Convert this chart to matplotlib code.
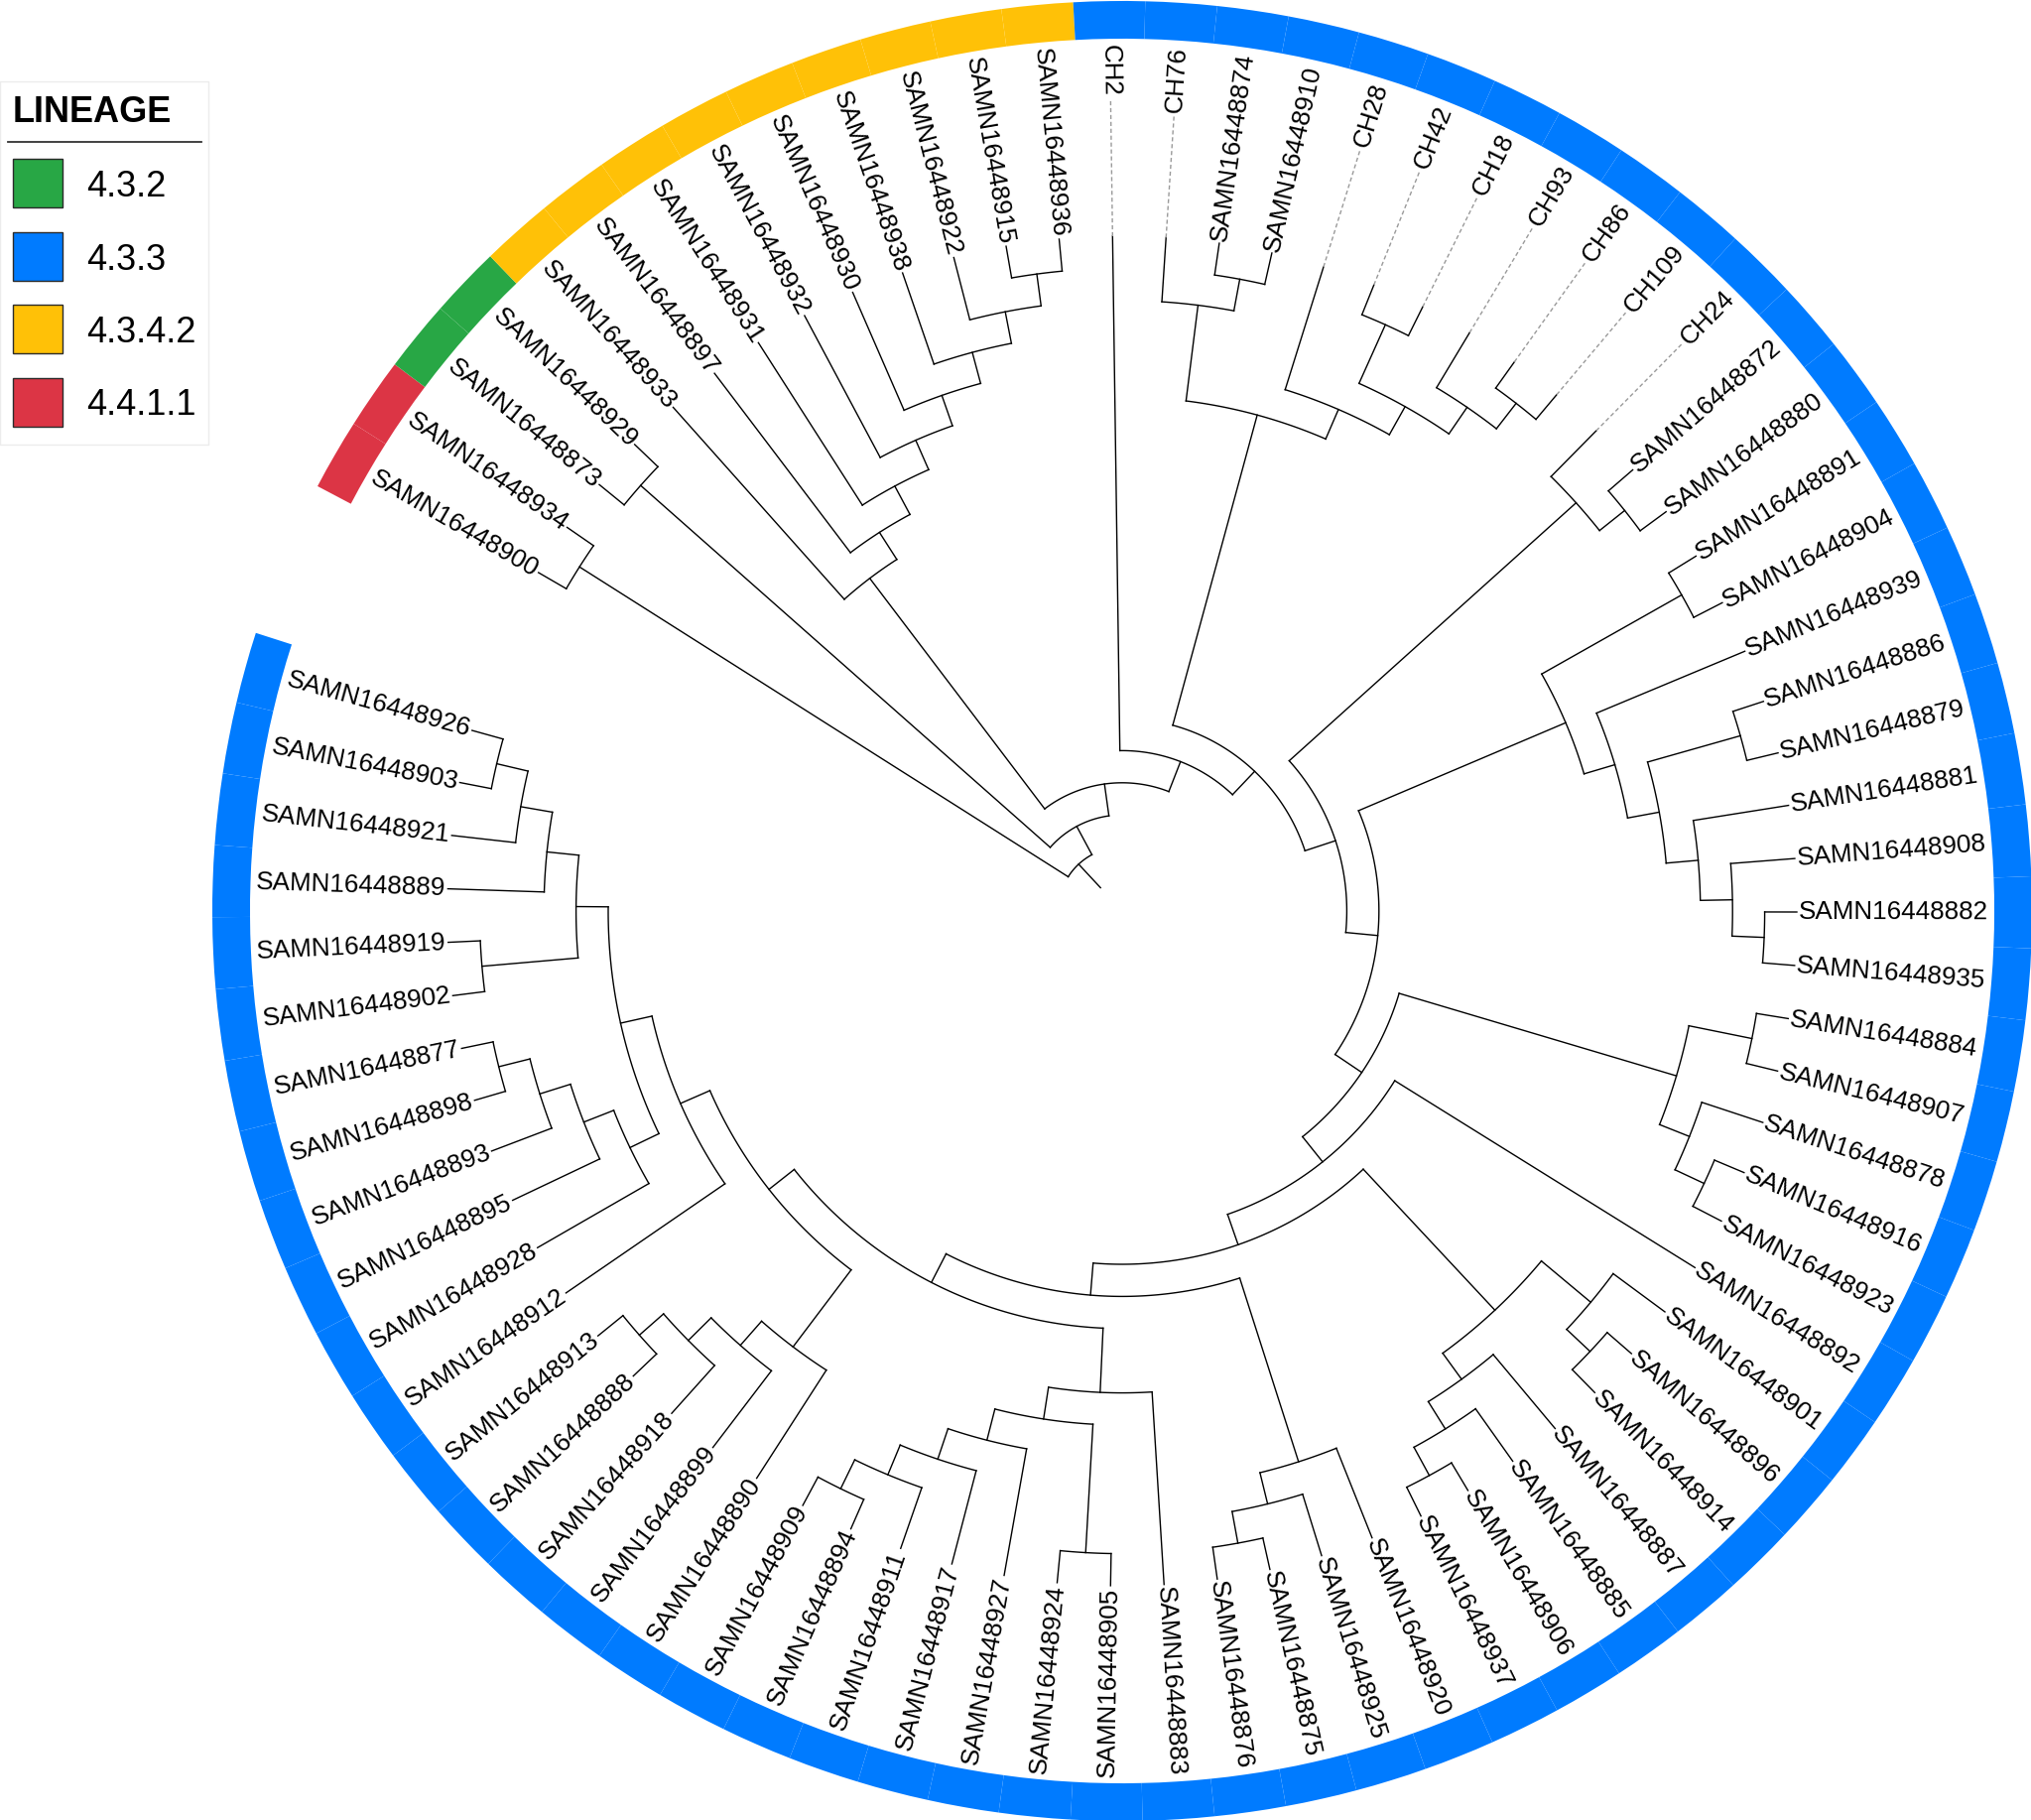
import numpy as np
import matplotlib
matplotlib.use("Agg")
import matplotlib.pyplot as plt
from matplotlib.patches import Wedge, Rectangle
from matplotlib.font_manager import FontProperties

# clades (newick), leaves listed clockwise
clade_red = "(SAMN16448900,SAMN16448934)"
clade_green = "(SAMN16448873,SAMN16448929)"
clade_yellow = ("(SAMN16448933,(SAMN16448897,(SAMN16448931,(SAMN16448932,(SAMN16448930,"
                "(SAMN16448938,(SAMN16448922,(SAMN16448915,SAMN16448936))))))))")
clade_ch = "((CH76,(SAMN16448874,SAMN16448910)),(CH28,((CH42,CH18),(CH93,(CH86,CH109)))))"
clade_ch24 = "(CH24,(SAMN16448872,SAMN16448880))"
clade_right = ("((SAMN16448891,SAMN16448904),(SAMN16448939,((SAMN16448886,SAMN16448879),"
               "(SAMN16448881,(SAMN16448908,(SAMN16448882,SAMN16448935))))))")
clade_q = "((SAMN16448884,SAMN16448907),(SAMN16448878,(SAMN16448916,SAMN16448923)))"
clade_u = ("((SAMN16448901,(SAMN16448896,SAMN16448914)),"
           "(SAMN16448887,(SAMN16448885,(SAMN16448906,SAMN16448937))))")
clade_v = "(SAMN16448920,(SAMN16448925,(SAMN16448875,SAMN16448876)))"
clade_w = ("(SAMN16448883,((SAMN16448905,SAMN16448924),(SAMN16448927,(SAMN16448917,"
           "(SAMN16448911,(SAMN16448894,SAMN16448909))))))")
clade_z = "(SAMN16448890,(SAMN16448899,(SAMN16448918,(SAMN16448888,SAMN16448913))))"
clade_y4 = "(SAMN16448928,(SAMN16448895,(SAMN16448893,(SAMN16448898,SAMN16448877))))"
clade_l4 = "((SAMN16448902,SAMN16448919),(SAMN16448889,(SAMN16448921,(SAMN16448903,SAMN16448926))))"

lineages = ["4.3.2", "4.3.3", "4.3.4.2", "4.4.1.1"]
lineage_colors = ["#28a745", "#007bff", "#ffc107", "#dc3545"]
lineage_4_3_2 = ["SAMN16448873", "SAMN16448929"]
lineage_4_3_4_2 = ["SAMN16448933", "SAMN16448897", "SAMN16448931", "SAMN16448932",
                   "SAMN16448930", "SAMN16448938", "SAMN16448922", "SAMN16448915",
                   "SAMN16448936"]
lineage_4_4_1_1 = ["SAMN16448900", "SAMN16448934"]
# every other leaf is 4.3.3


def pair(a, b):
    return "(" + a + "," + b + ")"


t = pair(clade_y4, clade_l4)
t = pair("SAMN16448912", t)
t = pair(clade_z, t)
t = pair(clade_w, t)
t = pair(clade_v, t)
t = pair(clade_u, t)
t = pair("SAMN16448892", t)
t = pair(clade_q, t)
t = pair(clade_right, t)
t = pair(clade_ch24, t)
t = pair(clade_ch, t)
t = pair("CH2", t)
t = pair(clade_yellow, t)
t = pair(clade_green, t)
tree_nwk = pair(clade_red, t) + ";"


def parse(s):
    s = "".join(s.split()).rstrip(";")
    pos = 0

    def node():
        nonlocal pos
        if s[pos] == "(":
            pos += 1
            kids = [node()]
            while s[pos] == ",":
                pos += 1
                kids.append(node())
            pos += 1
            return kids
        j = pos
        while s[pos] not in ",)":
            pos += 1
        return s[j:pos]
    return node()


tree = parse(tree_nwk)
leaves = []


def collect(n):
    if isinstance(n, str):
        leaves.append(n)
    else:
        for c in n:
            collect(c)


collect(tree)

W, H = 2047, 1834
CX, CY = 1131, 918
R_TIP, DR = 680, 32.4
R_LAB = 873
RING_IN, RING_OUT = 879, 917
A0, DA = 149.9, 4.545

ang = {name: A0 - DA * i for i, name in enumerate(leaves)}


def lineage_of(name):
    if name in lineage_4_3_2:
        return 0
    if name in lineage_4_3_4_2:
        return 2
    if name in lineage_4_4_1_1:
        return 3
    return 1


fig = plt.figure(figsize=(W / 100, H / 100), dpi=100)
ax = fig.add_axes([0, 0, 1, 1])
ax.set_xlim(-CX, W - CX)
ax.set_ylim(-(H - CY), CY)
ax.axis("off")

LW = 1.0


def pol(r, a):
    th = np.radians(a)
    return r * np.cos(th), r * np.sin(th)


def draw(n):
    if isinstance(n, str):
        return ang[n], 0
    res = [draw(c) for c in n]
    h = 1 + max(x[1] for x in res)
    rad = R_TIP - h * DR
    a0, a1 = res[0][0], res[-1][0]
    th = np.radians(np.linspace(a0, a1, 80))
    ax.plot(rad * np.cos(th), rad * np.sin(th), color="black", lw=LW)
    for a, hc in res:
        x0, y0 = pol(rad, a)
        x1, y1 = pol(R_TIP - hc * DR, a)
        ax.plot([x0, x1], [y0, y1], color="black", lw=LW)
    return (a0 + a1) / 2, h


root_a, root_h = draw(tree)
x0, y0 = pol(R_TIP - (root_h + 1) * DR, root_a)
x1, y1 = pol(R_TIP - root_h * DR, root_a)
ax.plot([x0, x1], [y0, y1], color="black", lw=LW)

# labels, right-aligned against the ring, dashed leader from tip
fp = FontProperties(family="Liberation Sans", size=18.7)
renderer = fig.canvas.get_renderer()
for name in leaves:
    a = ang[name]
    an = (a + 180) % 360 - 180
    tw = renderer.get_text_width_height_descent(name, fp, ismath=False)[0]
    lx, ly = pol(R_LAB, a)
    if -90 < an < 90:
        rot, ha = an, "right"
    else:
        rot, ha = (an + 180 if an < 0 else an - 180), "left"
    ax.text(lx, ly, name, fontproperties=fp, rotation=rot, ha=ha, va="center",
            rotation_mode="anchor", color="black")
    r_start = R_LAB - tw - 4
    if r_start > R_TIP + 3:
        xa, ya = pol(R_TIP, a)
        xb, yb = pol(r_start, a)
        ax.plot([xa, xb], [ya, yb], color="#9a9a9a", lw=1.0, dashes=(3, 2))

# lineage ring
for name in leaves:
    a = ang[name]
    ax.add_patch(Wedge((0, 0), RING_OUT, a - DA / 2, a + DA / 2,
                       width=RING_OUT - RING_IN, facecolor=lineage_colors[lineage_of(name)],
                       edgecolor="none"))


# legend (pixel coordinates from the top-left corner)
def px(x, y):
    return x - CX, CY - y


bx, by = px(0, 448)
ax.add_patch(Rectangle((bx, by), 210, 366, facecolor="white", edgecolor="#ececec", lw=1))
tx, ty = px(13, 123)
ax.text(tx, ty, "LINEAGE", fontsize=26, fontweight="bold", family="Liberation Sans",
        ha="left", va="baseline")
lx0, ly0 = px(8, 143)
lx1, _ = px(203, 143)
ax.plot([lx0, lx1], [ly0, ly0], color="#333333", lw=1.3)
for i, (lab, col) in enumerate(zip(lineages, lineage_colors)):
    top = 160 + i * 73.5
    sx, sy = px(12.5, top + 49)
    ax.add_patch(Rectangle((sx, sy), 50, 49, facecolor=col, edgecolor="#2b2b2b", lw=1.0))
    qx, qy = px(87, top + 38)
    ax.text(qx, qy, lab, fontsize=26, family="Liberation Sans", ha="left", va="baseline")

fig.savefig("out.png", dpi=100)
